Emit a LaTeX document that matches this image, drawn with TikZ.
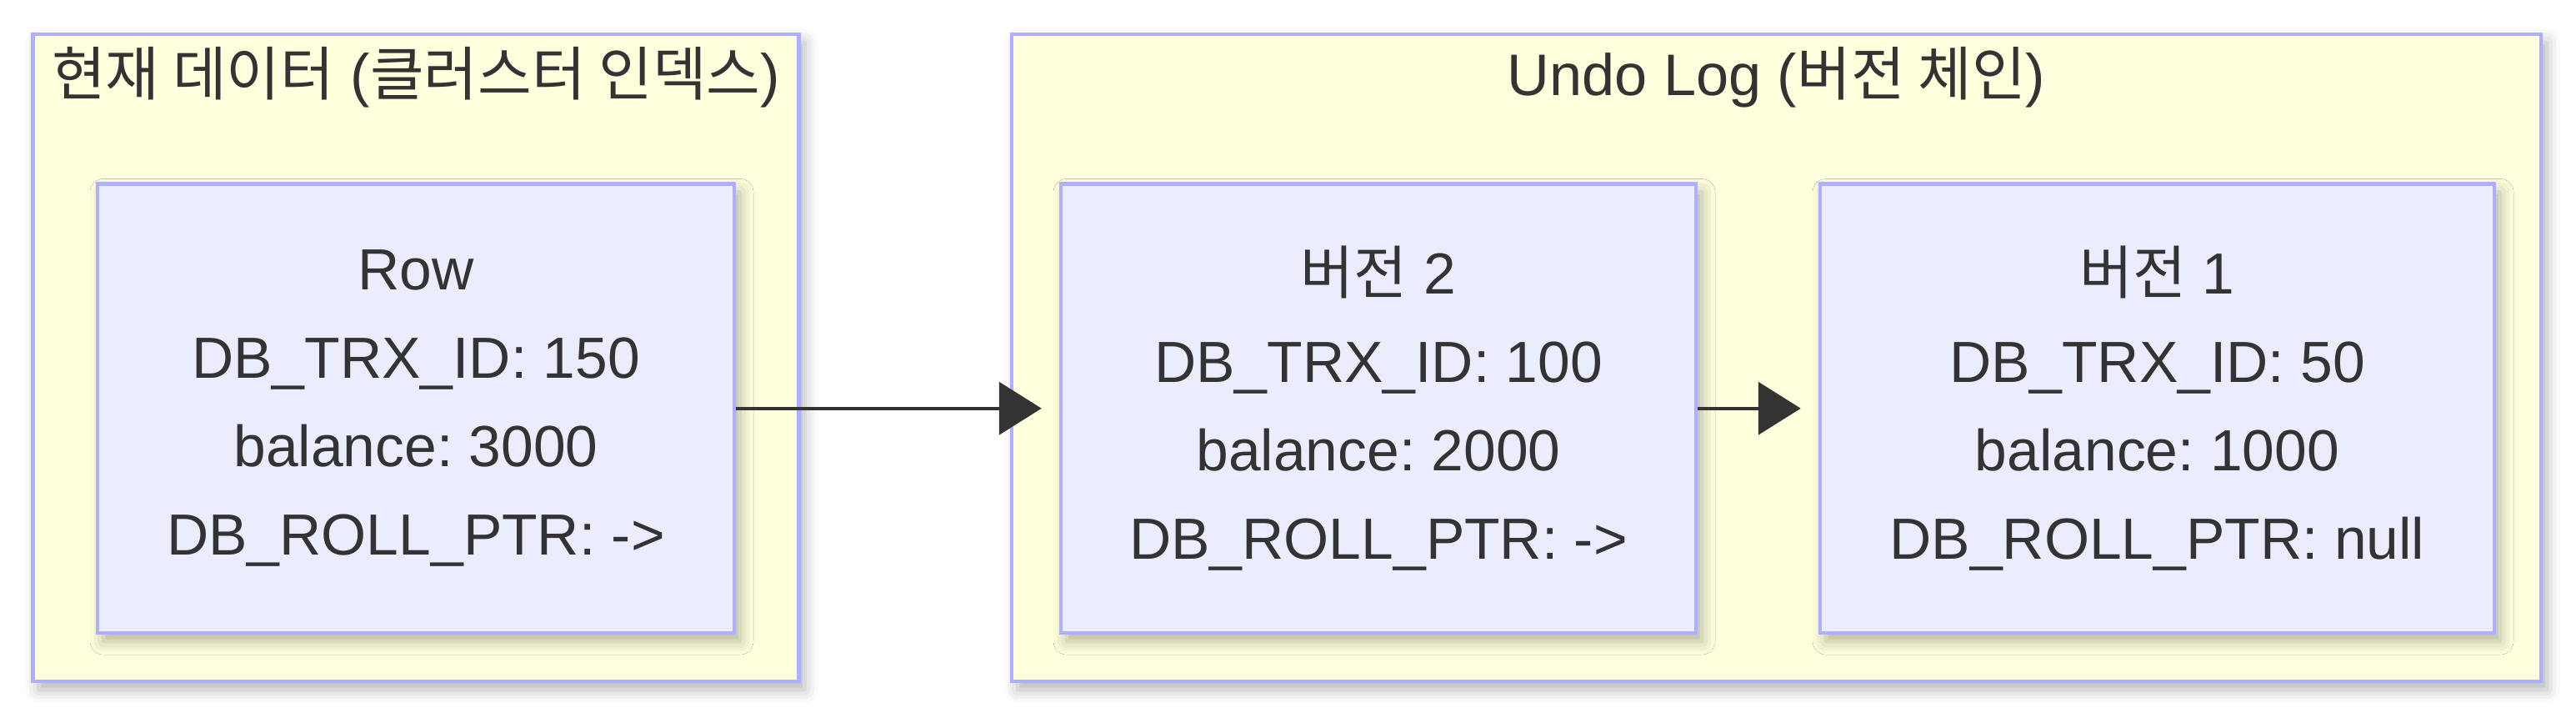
\documentclass[tikz,border=0pt]{standalone}
\usepackage{fontspec}
\setmainfont{Liberation Sans}
\newfontfamily\kr{Noto Sans CJK KR}
\usetikzlibrary{arrows.meta, shadows.blur}

\definecolor{groupfill}{HTML}{FFFFDE}
\definecolor{boxfill}{HTML}{ECECFF}
\definecolor{boxline}{HTML}{AFAFFF}
\definecolor{ink}{HTML}{333333}

\tikzset{
    groupbox/.style={draw=boxline, fill=groupfill, line width=0.045cm,
        minimum height=7.76cm,
        blur shadow={shadow xshift=0.07cm, shadow yshift=-0.1cm, shadow blur radius=0.16cm, shadow opacity=30}},
    recbox/.style={draw=boxline, fill=boxfill, line width=0.045cm,
        minimum height=5.385cm, align=center, text=ink,
        font=\fontsize{19.8}{30.2}\selectfont\frenchspacing,
        blur shadow={shadow xshift=0.07cm, shadow yshift=-0.1cm, shadow blur radius=0.16cm, shadow opacity=30}},
    grouptitle/.style={text=ink, font=\fontsize{20}{24}\selectfont},
    chain/.style={draw=ink, line width=0.04cm, -{Triangle[length=0.51cm, width=0.63cm]}, shorten >=0.21cm}
}

\begin{document}
\begin{tikzpicture}
    \useasboundingbox (0,0) rectangle (30.91,-8.6);
    % Clusters
    \node[groupbox, minimum width=9.19cm] (curdata) at (4.99,-4.29) {};
    \node[groupbox, minimum width=18.35cm] (undolog) at (21.315,-4.29) {};
    \node[grouptitle] (curtitle) at (4.99,-0.93) {{\kr 현재 데이터} ({\kr 클러스터 인덱스})};
    \node[grouptitle] (undotitle) at (21.315,-0.93) {Undo Log ({\kr 버전 체인})};
    % Row and versions
    \foreach \n/\x/\w/\t/\id/\bal/\ptr in {
        row/4.99/7.64/Row/150/3000/{->},
        ver2/16.54/7.62/{{\kr 버전} 2}/100/2000/{->},
        ver1/25.885/8.09/{{\kr 버전} 1}/50/1000/null
    } {
        \node[recbox, minimum width=\w cm] (\n) at (\x,-4.8975)
            {\t\\DB\_TRX\_ID: \id\\balance: \bal\\DB\_ROLL\_PTR: \ptr};
    }
    % Roll pointers
    \draw[chain] (row) -- (ver2);
    \draw[chain] (ver2) -- (ver1);
\end{tikzpicture}
\end{document}
